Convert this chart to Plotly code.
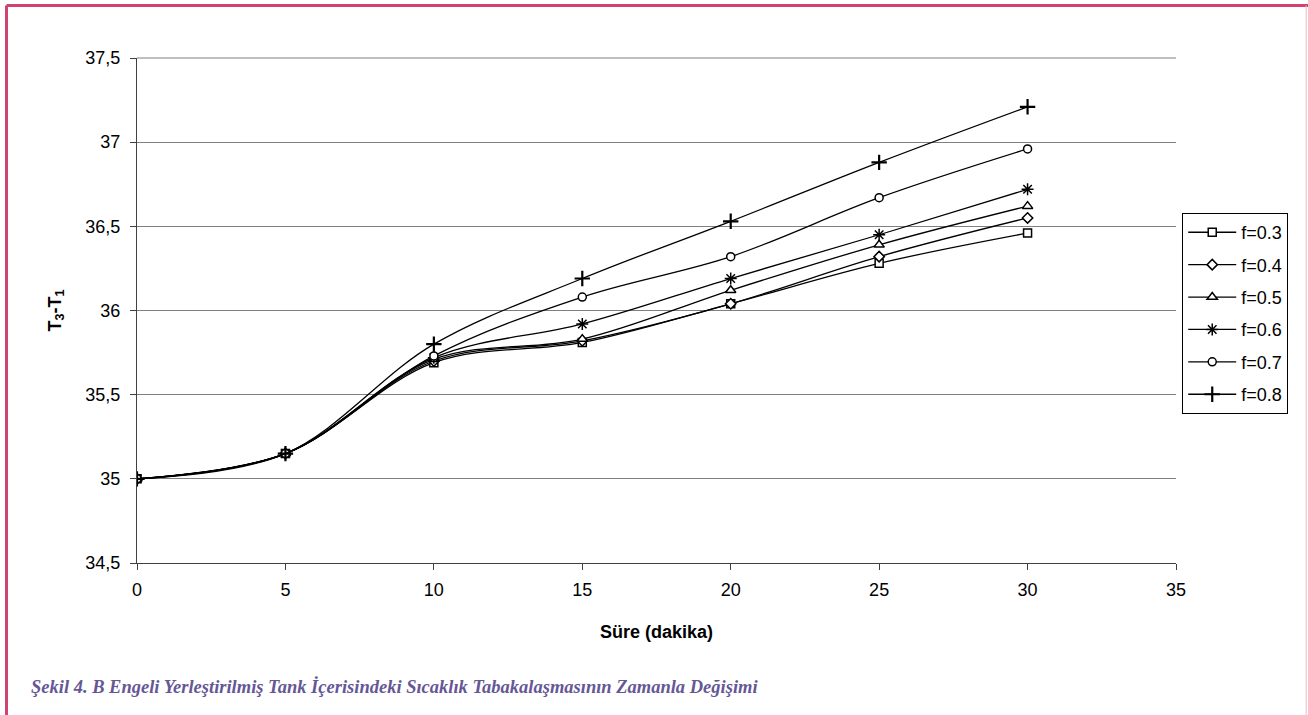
import plotly.graph_objects as go

time_min = [0, 5, 10, 15, 20, 25, 30]
series_names = ["f=0.3", "f=0.4", "f=0.5", "f=0.6", "f=0.7", "f=0.8"]
f03 = [35.0, 35.15, 35.69, 35.81, 36.04, 36.28, 36.46]
f04 = [35.0, 35.15, 35.70, 35.82, 36.04, 36.32, 36.55]
f05 = [35.0, 35.15, 35.71, 35.83, 36.12, 36.39, 36.62]
f06 = [35.0, 35.15, 35.72, 35.92, 36.19, 36.45, 36.72]
f07 = [35.0, 35.15, 35.73, 36.08, 36.32, 36.67, 36.96]
f08 = [35.0, 35.15, 35.80, 36.19, 36.53, 36.88, 37.21]
series_values = [f03, f04, f05, f06, f07, f08]
symbols = ["square", "diamond", "triangle-up", "asterisk-open", "circle", "cross-thin-open"]
fills = ["white", "white", "white", "black", "white", "black"]
sizes = [8, 8, 9, 10, 8, 11]
widths = [1.5, 1.5, 1.5, 1.5, 1.5, 2.2]

fig = go.Figure()
for i, (name, vals, sym, fill, sz, lw) in enumerate(zip(series_names, series_values, symbols, fills, sizes, widths)):
    fig.add_trace(go.Scatter(
        x=time_min, y=vals, name=name, mode="lines+markers", legendgroup=f"g{i}",
        line=dict(color="black", width=1.3, shape="spline", smoothing=1.0),
        marker=dict(symbol=sym, size=sz, color=fill,
                    line=dict(color="black", width=lw)),
    ))

fig.update_layout(
    width=1308, height=715,
    margin=dict(l=137, r=132, t=58, b=152),
    paper_bgcolor="white", plot_bgcolor="white",
    separators=", ",
    font=dict(family="Liberation Sans, Arial", size=18, color="black"),
    showlegend=True,
    legend=dict(x=1.006, y=0.693, xanchor="left", yanchor="top",
                bordercolor="black", borderwidth=1,
                font=dict(size=18), tracegroupgap=6, itemwidth=48),
    xaxis=dict(range=[0, 35], dtick=5, showgrid=False, zeroline=False,
               showline=True, linecolor="#404040", linewidth=1,
               ticks="outside", ticklen=6, tickcolor="#404040",
               ticklabelstandoff=4,
               title=dict(text="<b>Süre (dakika)</b>", standoff=26,
                          font=dict(size=18))),
    yaxis=dict(range=[34.5, 37.5], dtick=0.5, showgrid=True,
               gridcolor="#808080", gridwidth=1, zeroline=False,
               showline=True, linecolor="#404040", linewidth=1,
               ticks="outside", ticklen=6, tickcolor="#404040",
               ticklabelstandoff=6,
               title=dict(text="<b>T<sub>3</sub>-T<sub>1</sub></b>", standoff=19,
                          font=dict(size=18))),
)

# top plot boundary line (gridline at 37.5)
fig.add_shape(type="line", xref="paper", yref="paper", x0=0, x1=1, y0=1, y1=1,
              line=dict(color="#808080", width=1))

# pink page frame
pink = "#d0446f"
fig.add_shape(type="line", xref="paper", yref="paper", x0=-0.1256, x1=1.13,
              y0=1.104, y1=1.104, line=dict(color=pink, width=3))
fig.add_shape(type="line", xref="paper", yref="paper", x0=-0.1256, x1=-0.1256,
              y0=1.104, y1=-0.31, line=dict(color=pink, width=3))
fig.add_shape(type="line", xref="paper", yref="paper", x0=1.1253, x1=1.1253,
              y0=1.104, y1=-0.31, line=dict(color="#e8b8c8", width=1))

fig.add_annotation(
    text="<b><i>Şekil 4. B Engeli Yerleştirilmiş Tank İçerisindeki Sıcaklık Tabakalaşmasının Zamanla Değişimi</i></b>",
    xref="paper", yref="paper", x=-0.1035, y=-0.244, xanchor="left", yanchor="middle",
    showarrow=False, font=dict(family="Liberation Serif, Times New Roman", size=18.5, color="#655796"),
)

fig.write_html("out.html", config={"displayModeBar": False},
               post_script="document.body.style.margin='0';document.body.style.padding='0';")
